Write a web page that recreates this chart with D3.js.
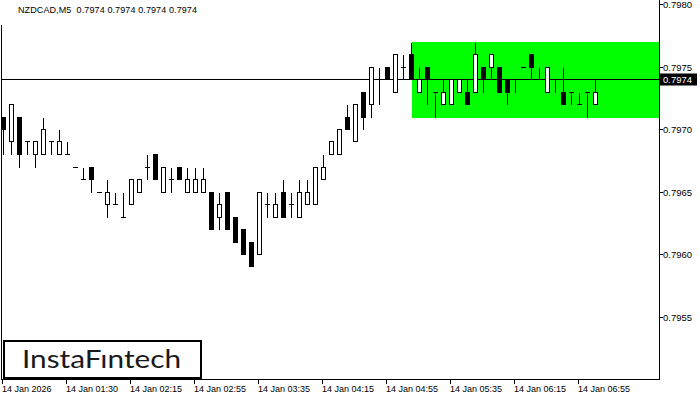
<!DOCTYPE html>
<html>
<head>
<meta charset="utf-8">
<script src="https://cdn.jsdelivr.net/npm/d3@7"></script>
<style>
html,body{margin:0;padding:0;background:#fff;}
svg{display:block;}
text{font-family:"Liberation Sans",Arial,sans-serif;}
</style>
</head>
<body>
<script>
// ---- data ----
const opens  = [0.7971,0.7969,0.7971,0.7969,0.7968,0.7968,0.7969,0.7968,0.7968,0.7967,
                0.7966,0.7967,0.7965,0.7964,0.7964,0.7963,0.7964,0.7965,0.7967,0.7968,
                0.7965,0.7966,0.7967,0.7965,0.7965,0.7965,0.7965,0.7963,0.7965,0.7963,
                0.7962,0.7961,0.7960,0.7964,0.7963,0.7965,0.7964,0.7963,0.7964,0.7964,
                0.7966,0.7968,0.7968,0.7971,0.7969,0.7973,0.7972,0.7974,0.7975,0.7973,
                0.7975,0.7976,0.7973,0.7975,0.7973,0.7972,0.7972,0.7973,0.7973,0.7973,
                0.7975,0.7975,0.7975,0.7974,0.7974,0.7975,0.7976,0.7974,0.7973,0.7974,
                0.7973,0.7973,0.7972,0.7973,0.7972];
const highs  = [0.7971,0.7972,0.7971,0.7969,0.7969,0.7971,0.7969,0.7970,0.7969,0.7967,
                0.7967,0.7967,0.7965,0.7966,0.7965,0.7965,0.7966,0.7966,0.7968,0.7968,
                0.7967,0.7967,0.7967,0.7967,0.7967,0.7967,0.7965,0.7965,0.7965,0.7963,
                0.7962,0.7961,0.7965,0.7965,0.7965,0.7966,0.7965,0.7966,0.7966,0.7967,
                0.7968,0.7969,0.7970,0.7972,0.7972,0.7973,0.7975,0.7975,0.7975,0.7976,
                0.7976,0.7977,0.7975,0.7975,0.7973,0.7974,0.7974,0.7974,0.7974,0.7977,
                0.7975,0.7976,0.7975,0.7974,0.7974,0.7975,0.7976,0.7975,0.7975,0.7974,
                0.7975,0.7973,0.7973,0.7973,0.7974];
const lows   = [0.7968,0.7968,0.7967,0.7968,0.7967,0.7968,0.7968,0.7968,0.7968,0.7967,
                0.7966,0.7965,0.7965,0.7963,0.7964,0.7963,0.7964,0.7965,0.7966,0.7966,
                0.7965,0.7965,0.7966,0.7965,0.7965,0.7965,0.7962,0.7962,0.7962,0.7961,
                0.7960,0.7959,0.7960,0.7963,0.7963,0.7963,0.7963,0.7963,0.7964,0.7964,
                0.7966,0.7968,0.7968,0.7970,0.7969,0.7970,0.7971,0.7972,0.7974,0.7973,
                0.7974,0.7974,0.7973,0.7972,0.7971,0.7972,0.7972,0.7973,0.7972,0.7973,
                0.7973,0.7974,0.7973,0.7972,0.7973,0.7975,0.7974,0.7974,0.7973,0.7973,
                0.7972,0.7972,0.7972,0.7971,0.7972];
const closes = [0.7970,0.7972,0.7968,0.7969,0.7969,0.7970,0.7969,0.7969,0.7968,0.7967,
                0.7966,0.7966,0.7965,0.7965,0.7964,0.7963,0.7966,0.7966,0.7967,0.7966,
                0.7967,0.7966,0.7966,0.7966,0.7966,0.7966,0.7962,0.7964,0.7962,0.7961,
                0.7960,0.7959,0.7965,0.7964,0.7964,0.7963,0.7964,0.7965,0.7965,0.7967,
                0.7967,0.7969,0.7970,0.7970,0.7972,0.7971,0.7975,0.7974,0.7974,0.7976,
                0.7975,0.7974,0.7974,0.7974,0.7973,0.7973,0.7974,0.7974,0.7972,0.7976,
                0.7974,0.7976,0.7973,0.7973,0.7974,0.7975,0.7975,0.7974,0.7975,0.7974,
                0.7972,0.7973,0.7972,0.7973,0.7973];
const timeLabels = ["14 Jan 2026","14 Jan 01:30","14 Jan 02:15","14 Jan 02:55","14 Jan 03:35",
                    "14 Jan 04:15","14 Jan 04:55","14 Jan 05:35","14 Jan 06:15","14 Jan 06:55"];
const timeLabelBars = [0,8,16,24,32,40,48,56,64,72];
const priceTicks = [0.7980,0.7975,0.7970,0.7965,0.7960,0.7955];
const zoneTop = 0.7977, zoneBottom = 0.7971, zoneStartBar = 51;
const lastPrice = 0.7974;
const title = "NZDCAD,M5  0.7974 0.7974 0.7974 0.7974";

// ---- layout ----
const W = 700, H = 400;
const frLeft = 1.5, frRight = 659.5, frTop = 0, frBottom = 379.5;
const svg = d3.select("body").append("svg").attr("width", W).attr("height", H);

const n = opens.length;
const x = d3.scaleLinear().domain([0, 1]).range([3.5, 11.5]);
const y = d3.scaleLinear().domain([0.7950, 0.7980]).range([379, 4]);
const py = p => Math.round(y(p)) + 0.5;

// green zone
const zx = Math.round(x(zoneStartBar));
svg.append("rect")
  .attr("x", zx)
  .attr("y", Math.round(y(zoneTop)))
  .attr("width", frRight - 0.5 - zx)
  .attr("height", Math.round(y(zoneBottom)) - Math.round(y(zoneTop)) + 1)
  .attr("fill", "#00ff00");

// last price line
svg.append("line")
  .attr("x1", frLeft).attr("x2", frRight)
  .attr("y1", py(lastPrice)).attr("y2", py(lastPrice))
  .attr("stroke", "#000").attr("stroke-width", 1).attr("shape-rendering", "crispEdges");

// candles
const idx = d3.range(n);
const g = svg.append("g").attr("shape-rendering", "crispEdges");
idx.forEach(i => {
  const cx = x(i);
  const o = opens[i], c = closes[i], h = highs[i], l = lows[i];
  if (h > l) {
    g.append("line").attr("x1", cx).attr("x2", cx)
      .attr("y1", py(h)).attr("y2", py(l))
      .attr("stroke", "#000").attr("stroke-width", 1);
  }
  if (o !== c) {
    const yt = py(Math.max(o, c)), yb = py(Math.min(o, c));
    g.append("rect").attr("x", cx - 2).attr("y", yt)
      .attr("width", 4).attr("height", yb - yt)
      .attr("fill", c > o ? "#fff" : "#000")
      .attr("stroke", "#000").attr("stroke-width", 1);
  } else {
    g.append("line").attr("x1", cx - 2.5).attr("x2", cx + 2.5)
      .attr("y1", py(o)).attr("y2", py(o))
      .attr("stroke", "#000").attr("stroke-width", 1);
  }
});

// frame
const fr = svg.append("g").attr("stroke", "#000").attr("stroke-width", 1).attr("shape-rendering", "crispEdges");
fr.append("line").attr("x1", frLeft).attr("x2", frLeft).attr("y1", 25).attr("y2", frBottom);
fr.append("line").attr("x1", frRight).attr("x2", frRight).attr("y1", frTop).attr("y2", frBottom);
fr.append("line").attr("x1", frLeft).attr("x2", frRight).attr("y1", frBottom).attr("y2", frBottom);

// price axis
const ya = svg.append("g");
priceTicks.forEach(p => {
  const yy = py(p);
  ya.append("line").attr("x1", frRight).attr("x2", frRight + 3).attr("y1", yy).attr("y2", yy)
    .attr("stroke", "#000").attr("shape-rendering", "crispEdges");
  ya.append("text").attr("x", 663).attr("y", yy).attr("dy", "0.35em")
    .attr("font-size", "9.5px").attr("fill", "#000").text(p.toFixed(4));
});
// last price label
const ly = py(lastPrice);
ya.append("rect").attr("x", 660).attr("y", ly - 6).attr("width", 37).attr("height", 12).attr("fill", "#000");
ya.append("text").attr("x", 663).attr("y", ly).attr("dy", "0.35em")
  .attr("font-size", "9.5px").attr("fill", "#fff").text(lastPrice.toFixed(4));

// time axis
const xa = svg.append("g");
timeLabelBars.forEach((b, j) => {
  const xx = x(b) - 1;
  xa.append("line").attr("x1", xx).attr("x2", xx).attr("y1", frBottom).attr("y2", frBottom + 4)
    .attr("stroke", "#000").attr("shape-rendering", "crispEdges");
  xa.append("text").attr("x", xx - 0.5).attr("y", 392)
    .attr("font-size", "9px").attr("fill", "#000").text(timeLabels[j]);
});

// title
svg.append("text").attr("x", 18).attr("y", 13).attr("font-size", "9px").attr("fill", "#000")
  .style("white-space", "pre").attr("xml:space", "preserve")
  .attr("textLength", 179).attr("lengthAdjust", "spacing")
  .text(title);

// logo
svg.append("rect").attr("x", 4).attr("y", 341).attr("width", 197).attr("height", 37)
  .attr("fill", "#fff").attr("stroke", "#000").attr("stroke-width", 2);
svg.append("text").attr("x", 22).attr("y", 368).attr("font-size", "25px")
  .attr("textLength", 159).attr("lengthAdjust", "spacingAndGlyphs")
  .style("font-family", "Lato, 'Open Sans', sans-serif").attr("fill", "#1a1a1a")
  .text("InstaF\u0131ntech");
</script>
</body>
</html>
